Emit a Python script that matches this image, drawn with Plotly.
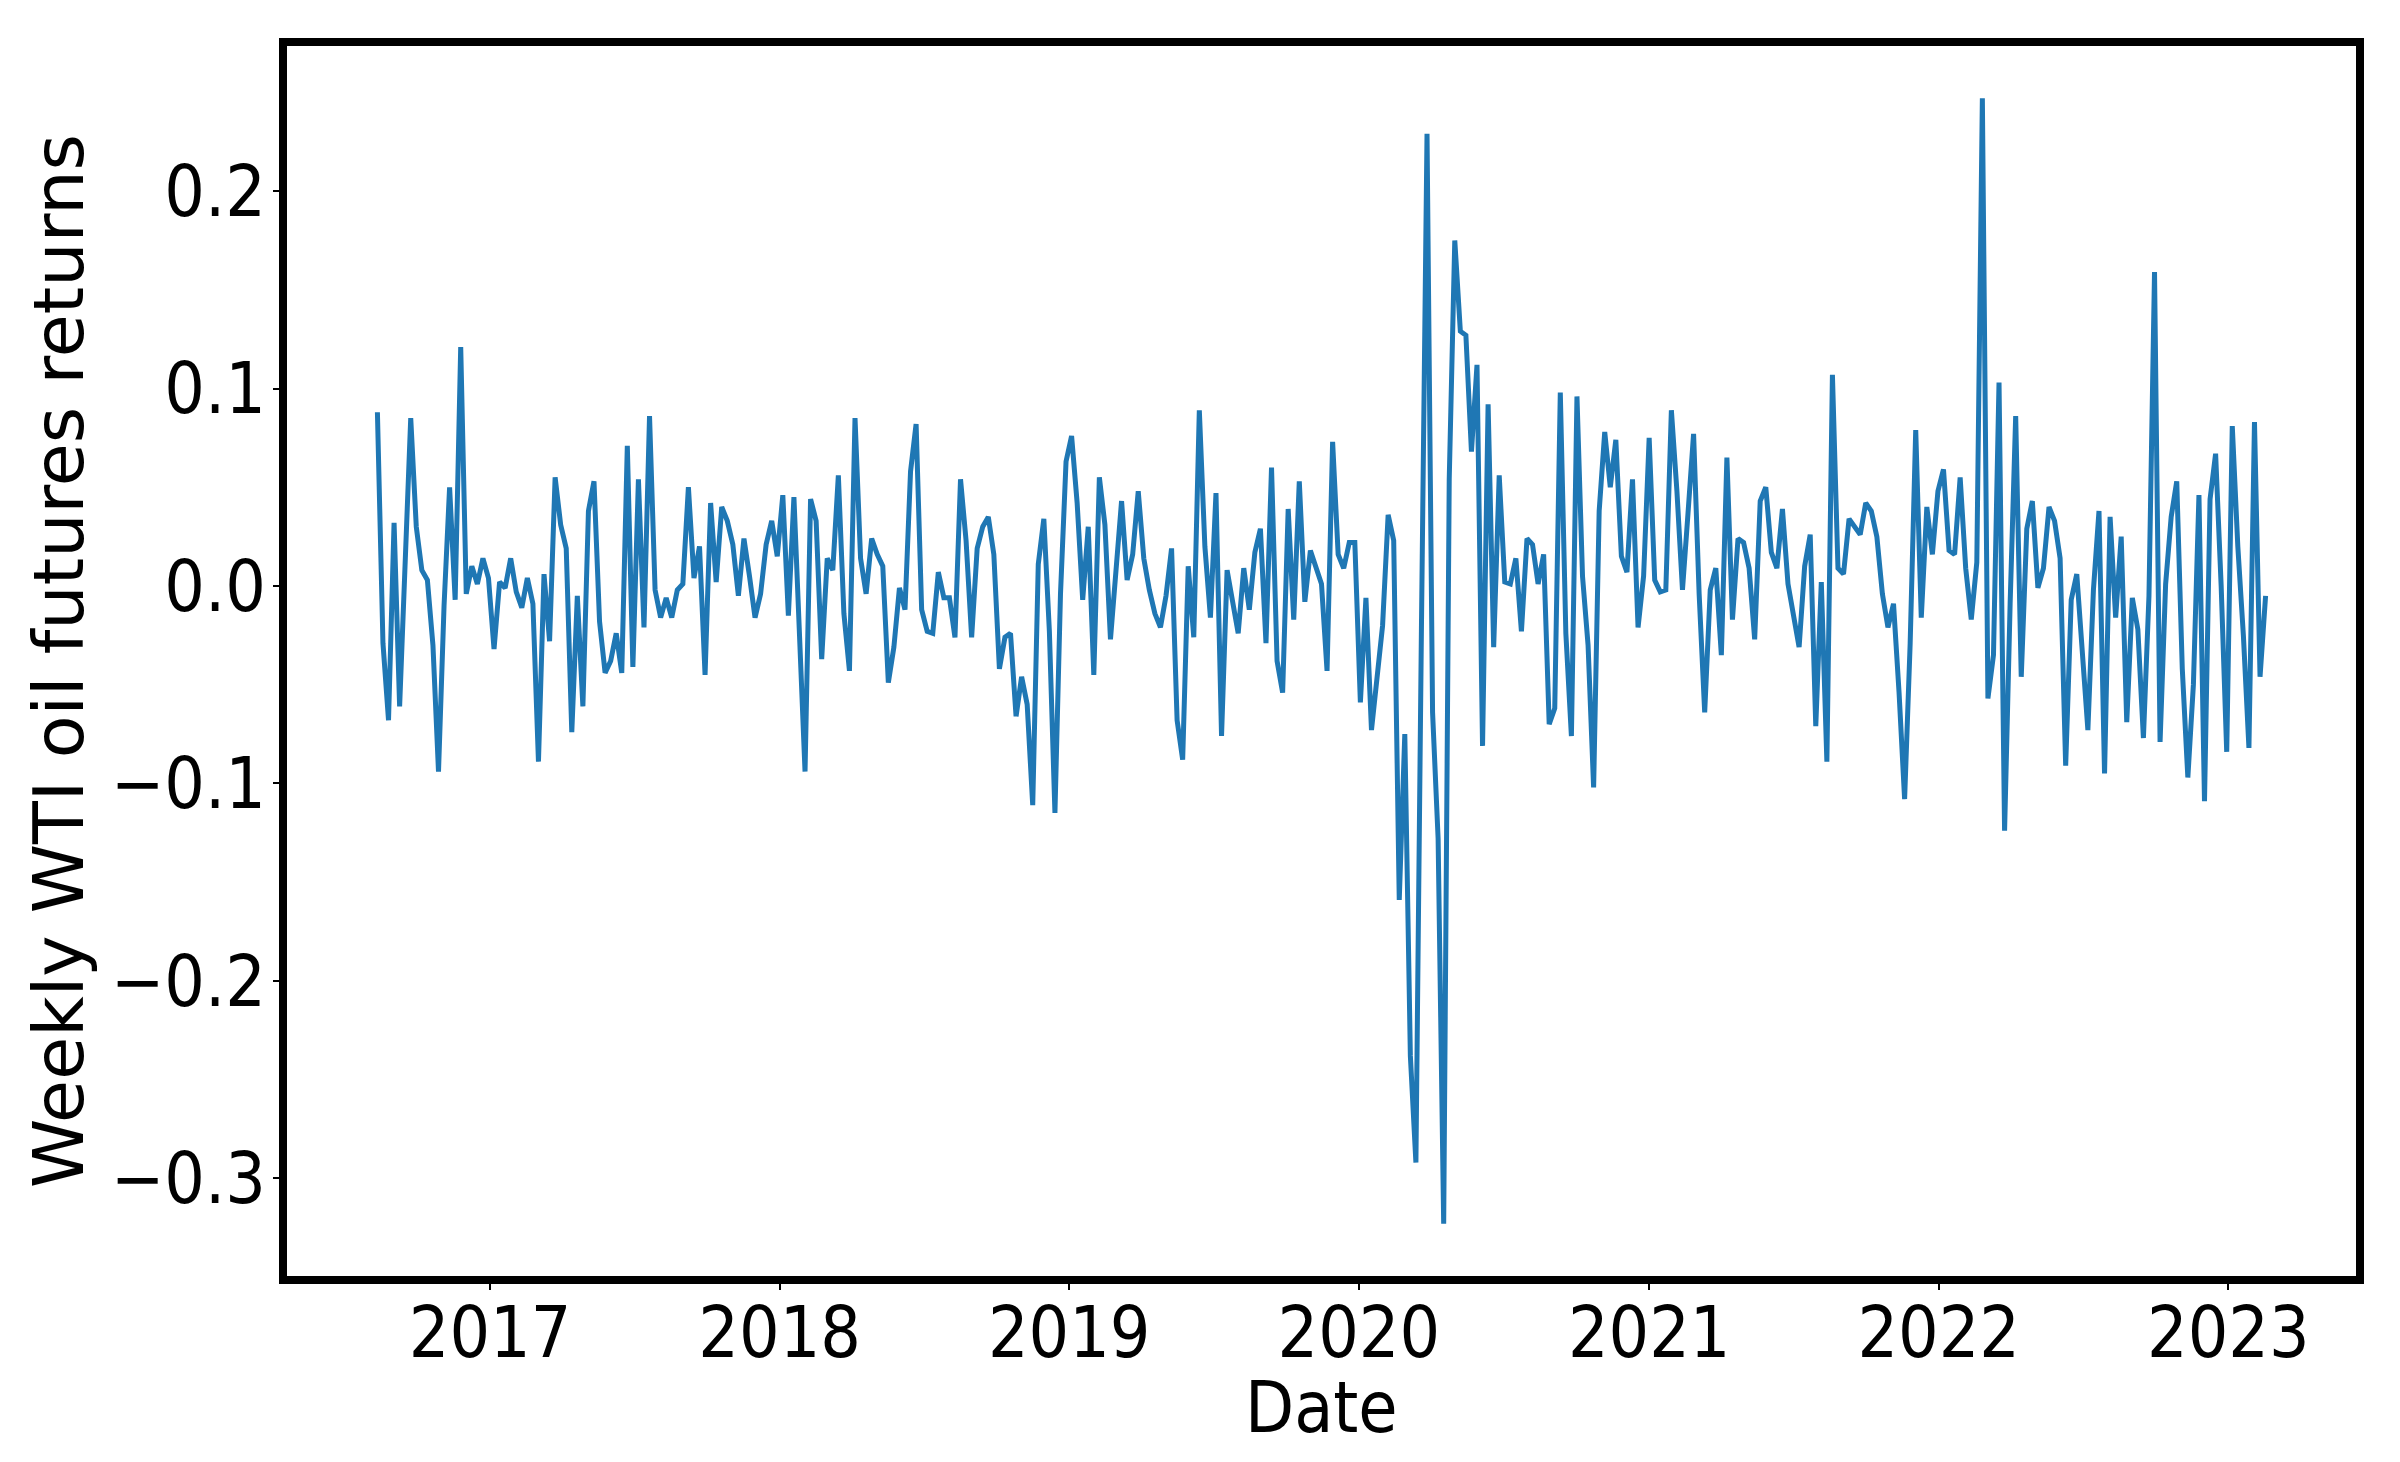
import pandas as pd
import plotly.graph_objects as go

start_date = "2016-08-12"
returns = [
    0.088, -0.029, -0.068, 0.032, -0.061, 0.020, 0.085, 0.030, 0.008, 0.003,
    -0.030, -0.094, -0.010, 0.050, -0.007, 0.121, -0.004, 0.010, 0.001, 0.014,
    0.004, -0.032, 0.002, -0.001, 0.014, -0.003, -0.011, 0.004, -0.009, -0.089,
    0.006, -0.028, 0.055, 0.031, 0.019, -0.074, -0.005, -0.061, 0.038, 0.053,
    -0.018, -0.044, -0.038, -0.024, -0.044, 0.071, -0.041, 0.054, -0.021, 0.086,
    -0.002, -0.016, -0.006, -0.016, -0.002, 0.001, 0.050, 0.004, 0.020, -0.045,
    0.042, 0.002, 0.040, 0.033, 0.021, -0.005, 0.024, 0.005, -0.016, -0.004,
    0.021, 0.033, 0.015, 0.046, -0.015, 0.045, -0.020, -0.094, 0.044, 0.033,
    -0.037, 0.014, 0.008, 0.056, -0.014, -0.043, 0.085, 0.014, -0.004, 0.024,
    0.016, 0.010, -0.049, -0.031, -0.001, -0.012, 0.058, 0.082, -0.012, -0.023,
    -0.024, 0.007, -0.006, -0.006, -0.026, 0.054, 0.023, -0.026, 0.019, 0.030,
    0.035, 0.016, -0.042, -0.026, -0.024, -0.066, -0.046, -0.060, -0.111, 0.011,
    0.034, -0.023, -0.115, -0.004, 0.063, 0.076, 0.042, -0.007, 0.030, -0.045,
    0.055, 0.031, -0.027, 0.006, 0.043, 0.003, 0.016, 0.048, 0.014, -0.002,
    -0.014, -0.021, -0.005, 0.019, -0.068, -0.088, 0.010, -0.026, 0.089, 0.020,
    -0.016, 0.047, -0.076, 0.008, -0.009, -0.024, 0.009, -0.012, 0.017, 0.029,
    -0.029, 0.060, -0.038, -0.054, 0.039, -0.017, 0.053, -0.008, 0.018, 0.010,
    0.001, -0.043, 0.073, 0.016, 0.009, 0.022, 0.022, -0.059, -0.006, -0.073,
    -0.045, -0.020, 0.036, 0.023, -0.159, -0.075, -0.238, -0.292, -0.020, 0.229,
    -0.064, -0.128, -0.323, 0.054, 0.175, 0.129, 0.127, 0.068, 0.112, -0.081,
    0.092, -0.031, 0.056, 0.002, 0.001, 0.014, -0.023, 0.024, 0.021, 0.001,
    0.016, -0.070, -0.062, 0.098, -0.024, -0.076, 0.096, 0.005, -0.030, -0.102,
    0.038, 0.078, 0.050, 0.074, 0.015, 0.007, 0.054, -0.021, 0.005, 0.075,
    0.003, -0.003, -0.002, 0.089, 0.048, -0.002, 0.037, 0.077, -0.004, -0.064,
    -0.002, 0.009, -0.035, 0.065, -0.017, 0.024, 0.022, 0.009, -0.027, 0.043,
    0.050, 0.017, 0.009, 0.039, 0.001, -0.016, -0.031, 0.010, 0.026, -0.071,
    0.002, -0.089, 0.107, 0.009, 0.006, 0.034, 0.030, 0.026, 0.042, 0.038,
    0.025, -0.004, -0.021, -0.009, -0.054, -0.108, -0.029, 0.079, -0.016, 0.040,
    0.016, 0.048, 0.059, 0.018, 0.016, 0.055, 0.009, -0.017, 0.012, 0.247,
    -0.057, -0.035, 0.103, -0.124, -0.009, 0.086, -0.046, 0.029, 0.043, -0.001,
    0.009, 0.040, 0.033, 0.014, -0.091, -0.007, 0.006, -0.030, -0.073, -0.002,
    0.038, -0.095, 0.035, -0.016, 0.025, -0.069, -0.006, -0.022, -0.077, -0.005,
    0.159, -0.079, 0.001, 0.035, 0.053, -0.042, -0.097, -0.050, 0.046, -0.109,
    0.044, 0.067, 0.000, -0.084, 0.081, 0.020, -0.025, -0.082, 0.083, -0.046,
    -0.005,
]
year_ticks = [2017, 2018, 2019, 2020, 2021, 2022, 2023]
y_ticks = [-0.3, -0.2, -0.1, 0.0, 0.1, 0.2]
x_title = "Date"
y_title = "Weekly WTI oil futures returns"

dates = pd.date_range(start_date, periods=len(returns), freq="7D")

# matplotlib-style 5% margins, measured to the spine centres
span = dates[-1] - dates[0]
x_lo, x_hi = dates[0] - span * 0.05, dates[-1] + span * 0.05
ymin, ymax = min(returns), max(returns)
ypad = (ymax - ymin) * 0.05
y_lo, y_hi = ymin - ypad, ymax + ypad

# plotly draws the frame outside the plot area: inset the range by half the frame width
frame_w = 8
W, H = 2400, 1462
ml, mr, mt, mb = 279, 52, 38, 194
plot_w = W - ml - mr
plot_h = H - mt - mb
half = frame_w / 2
xs = (x_hi - x_lo) / (plot_w + frame_w)
ys = (y_hi - y_lo) / (plot_h + frame_w)
x_range = [x_lo + xs * half, x_hi - xs * half]
y_range = [y_lo + ys * half, y_hi - ys * half]

cond_font = "DejaVu Sans Condensed, DejaVu Sans"
fsize = 71

fig = go.Figure()
fig.add_trace(go.Scatter(
    x=dates, y=returns, mode="lines",
    line=dict(color="#1f77b4", width=5),
    showlegend=False,
))

fig.update_layout(
    width=W, height=H,
    margin=dict(l=ml, r=mr, t=mt, b=mb),
    paper_bgcolor="white", plot_bgcolor="white",
    font=dict(family=cond_font, size=fsize, color="black"),
)
fig.update_xaxes(
    range=x_range,
    tickvals=[pd.Timestamp(f"{y}-01-01") for y in year_ticks],
    ticktext=[str(y) for y in year_ticks],
    ticks="outside", ticklen=6, tickwidth=2, tickcolor="black",
    ticklabelstandoff=-18,
    showline=True, linecolor="black", linewidth=frame_w, mirror=True,
    showgrid=False, zeroline=False,
    tickfont=dict(size=fsize, family=cond_font),
    automargin=False,
)
fig.update_yaxes(
    range=y_range,
    tickvals=y_ticks,
    ticktext=[f"{v:.1f}".replace("-", "\u2212") for v in y_ticks],
    ticks="outside", ticklen=6, tickwidth=2, tickcolor="black",
    ticklabelstandoff=-7,
    showline=True, linecolor="black", linewidth=frame_w, mirror=True,
    showgrid=False, zeroline=False,
    tickfont=dict(size=fsize, family=cond_font),
    title=dict(text=y_title, font=dict(size=70, family="DejaVu Sans"), standoff=7),
    automargin=False,
)
fig.add_annotation(
    text=x_title, xref="paper", yref="paper", x=0.5, y=0,
    xanchor="center", yanchor="middle", yshift=-131, showarrow=False,
    font=dict(size=fsize, family=cond_font, color="black"),
)

fig.write_html("out.html")
